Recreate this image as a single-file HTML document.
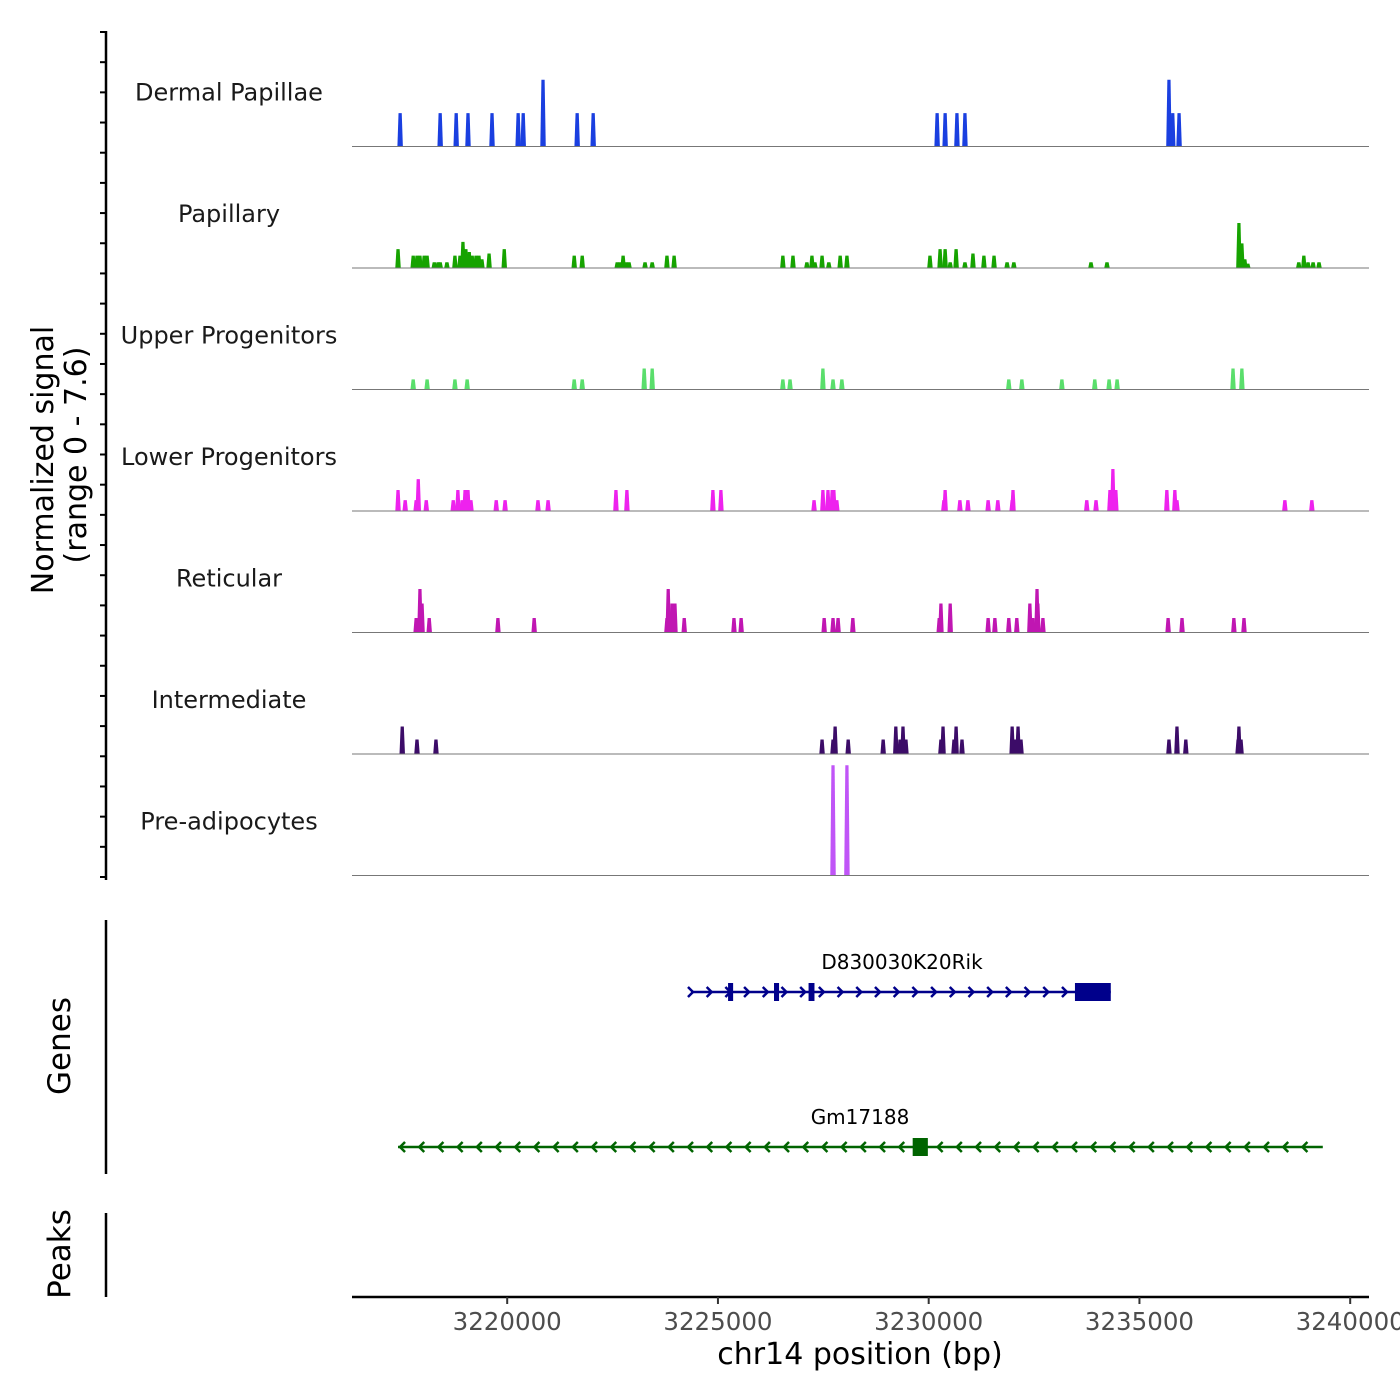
<!DOCTYPE html>
<html><head><meta charset="utf-8"><title>Coverage plot</title>
<style>
html,body{margin:0;padding:0;background:#fff;}
svg{display:block;font-family:"DejaVu Sans","Liberation Sans",sans-serif;}
</style></head>
<body>
<svg id="chart" width="1400" height="1400" viewBox="0 0 1400 1400" xmlns="http://www.w3.org/2000/svg">
<rect width="1400" height="1400" fill="#fff"/>
<g id="tracks"></g>
<g id="yaxis"></g>
<g id="genes"></g>
<g id="xaxis"></g>
<text transform="translate(53,460) rotate(-90)" text-anchor="middle" font-size="30" fill="#000">Normalized signal</text>
<text transform="translate(86,455) rotate(-90)" text-anchor="middle" font-size="30" fill="#000">(range 0 - 7.6)</text>
<text transform="translate(70,1046) rotate(-90)" text-anchor="middle" font-size="31" fill="#000">Genes</text>
<text transform="translate(70,1254) rotate(-90)" text-anchor="middle" font-size="31" fill="#000">Peaks</text>
<line x1="106" y1="920" x2="106" y2="1174" stroke="#000" stroke-width="2.5"/>
<line x1="106" y1="1213" x2="106" y2="1297" stroke="#000" stroke-width="2.5"/>
<text x="860" y="1364" text-anchor="middle" font-size="30" fill="#000">chr14 position (bp)</text>
</svg>
<script>
// ---- data (kb positions, normalized signal values) ----
const trackNames = ["Dermal Papillae","Papillary","Upper Progenitors","Lower Progenitors","Reticular","Intermediate","Pre-adipocytes"];
const trackColors = ["#1a3fe0","#16a300","#5ade6c","#ee22ee","#c016b2","#3c0c68","#c055f7"];
const dermalPos = [3217.46,3218.41,3218.79,3219.07,3219.64,3220.26,3220.38,3220.85,3221.66,3222.04,3230.20,3230.39,3230.67,3230.86,3235.70,3235.79,3235.94];
const dermalVal = [2.3,2.3,2.3,2.3,2.3,2.3,2.3,4.6,2.3,2.3,2.3,2.3,2.3,2.3,4.6,2.3,2.3];
const papPos = [3217.41,3217.77,3217.86,3217.93,3218.03,3218.10,3218.27,3218.36,3218.41,3218.57,3218.76,3218.88,3218.95,3219.02,3219.10,3219.17,3219.26,3219.33,3219.40,3219.57,3219.93,3221.59,3221.78,3222.61,3222.68,3222.75,3222.82,3222.89,3223.27,3223.44,3223.79,3223.96,3226.54,3226.78,3227.11,3227.23,3227.30,3227.47,3227.63,3227.90,3228.06,3230.03,3230.27,3230.39,3230.51,3230.65,3230.86,3231.05,3231.31,3231.55,3231.86,3232.02,3233.85,3234.23,3237.36,3237.43,3237.50,3237.57,3238.78,3238.90,3239.00,3239.12,3239.26];
const papVal = [1.3,0.85,0.85,0.85,0.85,0.85,0.4,0.4,0.4,0.4,0.85,0.85,1.8,1.3,1.1,0.85,0.85,0.85,0.6,1.0,1.3,0.85,0.85,0.4,0.4,0.85,0.4,0.4,0.4,0.4,0.85,0.85,0.85,0.85,0.4,0.85,0.4,0.85,0.4,0.85,0.85,0.85,1.3,1.3,0.4,1.3,0.4,1.0,0.85,0.85,0.4,0.4,0.4,0.4,3.1,1.7,0.6,0.3,0.4,0.85,0.4,0.4,0.4];
const upperPos = [3217.77,3218.10,3218.76,3219.05,3221.59,3221.78,3223.25,3223.44,3226.54,3226.71,3227.49,3227.73,3227.94,3231.90,3232.21,3233.16,3233.94,3234.28,3234.47,3237.22,3237.43];
const upperVal = [0.7,0.7,0.7,0.7,0.7,0.7,1.45,1.45,0.7,0.7,1.45,0.7,0.7,0.7,0.7,0.7,0.7,0.7,0.7,1.45,1.45];
const lowerPos = [3217.41,3217.58,3217.84,3217.89,3218.08,3218.72,3218.83,3218.93,3219.00,3219.07,3219.14,3219.74,3219.95,3220.73,3220.97,3222.58,3222.84,3224.88,3225.07,3227.28,3227.49,3227.61,3227.71,3227.75,3227.82,3230.36,3230.39,3230.74,3230.93,3231.41,3231.64,3231.98,3232.00,3233.75,3233.97,3234.30,3234.37,3234.44,3235.65,3235.84,3235.89,3238.45,3239.09];
const lowerVal = [1.45,0.75,0.75,2.2,0.75,0.75,1.45,0.75,1.45,1.45,0.75,0.75,0.75,0.75,0.75,1.45,1.45,1.45,1.45,0.75,1.45,1.45,1.45,1.45,0.75,0.75,1.45,0.75,0.75,0.75,0.75,0.75,1.45,0.75,0.75,1.45,2.9,1.45,1.45,1.45,0.75,0.75,0.75];
const retPos = [3217.84,3217.93,3217.98,3218.15,3219.78,3220.64,3223.79,3223.82,3223.91,3223.98,3224.20,3225.38,3225.55,3227.52,3227.73,3227.85,3228.20,3230.25,3230.29,3230.51,3231.41,3231.57,3231.90,3232.09,3232.40,3232.47,3232.57,3232.59,3232.71,3235.68,3236.01,3237.24,3237.48];
const retVal = [1.0,3.0,2.0,1.0,1.0,1.0,1.0,3.0,2.0,2.0,1.0,1.0,1.0,1.0,1.0,1.0,1.0,1.0,2.0,2.0,1.0,1.0,1.0,1.0,2.0,1.0,3.0,2.0,1.0,1.0,1.0,1.0,1.0];
const interPos = [3217.51,3217.86,3218.31,3227.47,3227.73,3227.78,3228.09,3228.92,3229.22,3229.32,3229.39,3229.46,3230.29,3230.34,3230.60,3230.65,3230.79,3231.98,3232.05,3232.12,3232.19,3235.70,3235.89,3236.10,3237.34,3237.36,3237.41];
const interVal = [1.9,1.0,1.0,1.0,1.0,1.9,1.0,1.0,1.9,1.0,1.9,1.0,1.0,1.9,1.0,1.9,1.0,1.9,1.0,1.9,1.0,1.0,1.9,1.0,1.0,1.9,1.0];
const preadPos = [3227.73,3228.06];
const preadVal = [7.6,7.6];
const trackPos = [dermalPos,papPos,upperPos,lowerPos,retPos,interPos,preadPos];
const trackVal = [dermalVal,papVal,upperVal,lowerVal,retVal,interVal,preadVal];
const xTicks = [3220000,3225000,3230000,3235000,3240000];
const xTickLabels = ["3220000","3225000","3230000","3235000","3240000"];
const geneNames = ["D830030K20Rik","Gm17188"];
const geneStart = [3224.36,3217.41];
const geneEnd = [3234.32,3239.35];
const geneStrand = [1,-1];
const geneColors = ["#00008b","#006400"];
const exonStarts = [[3225.24,3226.33,3227.15,3233.47],[3229.62]];
const exonEnds = [[3225.36,3226.45,3227.29,3234.32],[3229.98]];

// ---- scales ----
const X0 = 3216318, PX0 = 352, PXPERBP = 0.04215;
function xs(bp){ return PX0 + (bp - X0) * PXPERBP; }
function xk(kb){ return xs(kb*1000); }
const trackTop = 25, trackH = 121.5;
function baseY(i){ return trackTop + (i+1)*trackH; }
const PXPERUNIT = 14.5;
function ys(i,v){ return baseY(i) - v*PXPERUNIT; }

const NS = "http://www.w3.org/2000/svg";
function mk(tag, attrs, parent){
  const e = document.createElementNS(NS, tag);
  for (const k in attrs) e.setAttribute(k, attrs[k]);
  parent.appendChild(e); return e;
}
const tracks = document.getElementById('tracks');
trackNames.forEach((name,i)=>{
  const g = mk('g',{},tracks);
  
  
  const lbl = mk('text',{x:229,y:baseY(i)-46,'text-anchor':'middle','font-size':'24',fill:'#1a1a1a'},g);
  lbl.textContent = name;
  
  
  const pos = trackPos[i], val = trackVal[i];
  const b = baseY(i);
  for (let j=0;j<pos.length;j++){
    const c = pos[j]*1000, t = ys(i,val[j]);
    const pts = [[xs(c-65),b],[xs(c-38),t],[xs(c+38),t],[xs(c+65),b]].map(p=>p[0].toFixed(2)+','+p[1].toFixed(2)).join(' ');
    const p = mk('polygon',{points:pts,fill:trackColors[i]},g);
    
    
  }
  const bl = mk('line',{x1:352,x2:1369,y1:b,y2:b,stroke:'#777','stroke-width':1},g);
  
  
});

// y axis
const ya = document.getElementById('yaxis');
mk('line',{x1:106,x2:106,y1:31,y2:880,stroke:'#000','stroke-width':2.5},ya);
for (let k=0;k<29;k++){
  const y = 32 + k*(845/28);
  const t = mk('line',{x1:100,x2:106,y1:y,y2:y,stroke:'#000','stroke-width':2},ya);
  
  
}

// genes
const gg = document.getElementById('genes');
const geneY = [992,1147];
geneNames.forEach((nm,i)=>{
  const g = mk('g',{},gg);
  
  
  const y = geneY[i], c = geneColors[i];
  const x1 = xk(geneStart[i]), x2 = xk(geneEnd[i]);
  mk('line',{x1:x1,x2:x2,y1:y,y2:y,stroke:c,'stroke-width':2.5},g);
  const step = i===0 ? 18.7 : 19.2;
  for (let x = x1 + 2; x < x2 - 4; x += step){
    const d = geneStrand[i] > 0 ? -5 : 5;
    mk('polyline',{points:`${x+d},${y-5} ${x},${y} ${x+d},${y+5}`,fill:'none',stroke:c,'stroke-width':2.5},g);
  }
  exonStarts[i].forEach((s,j)=>{
    const e = exonEnds[i][j];
    const r = mk('rect',{x:xk(s),y:y-9,width:xk(e)-xk(s),height:18,fill:c},g);
    
    
  });
  const lbl = mk('text',{x:(i===0?902:860),y:y-23,'text-anchor':'middle','font-size':'20',fill:'#000'},g);
  lbl.textContent = nm;
  
  
});

// x axis
const xa = document.getElementById('xaxis');
mk('line',{x1:352,x2:1369,y1:1297,y2:1297,stroke:'#000','stroke-width':2.5},xa);
xTicks.forEach((v,i)=>{
  const x = xs(v);
  const t = mk('line',{x1:x,x2:x,y1:1297,y2:1304,stroke:'#333','stroke-width':2},xa);
  
  
  const l = mk('text',{x:x,y:1330,'text-anchor':'middle','font-size':'24.5',fill:'#4d4d4d'},xa);
  l.textContent = xTickLabels[i];
  
  
});
</script>
</body></html>
